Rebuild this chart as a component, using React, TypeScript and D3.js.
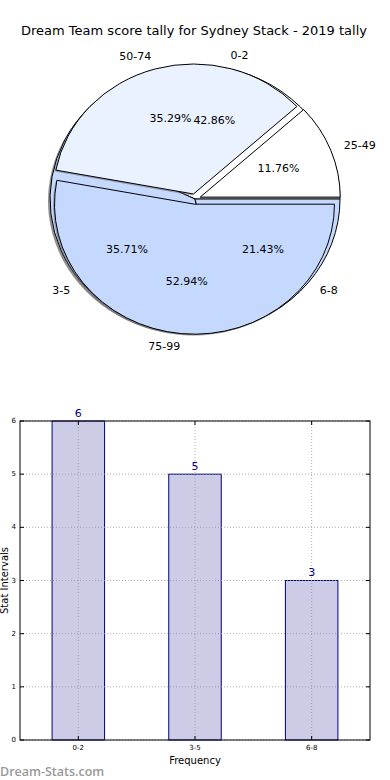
import React from "react";
import * as d3 from "d3";

// Données
const scoreCategories = ["25-49", "50-74", "75-99"];
const scoreValues = [2, 6, 9];
const scoreColors = ["#ffffff", "#eaf1ff", "#c5d9ff"];

const statCategories = ["0-2", "3-5", "6-8"];
const statValues = [6, 5, 3];
const statColors = ["#ffffff", "#c5d9ff", "#c5d9ff"];

const yTicks = [0, 1, 2, 3, 4, 5, 6];

const TITLE = "Dream Team score tally for Sydney Stack - 2019 tally";
const FONT = "'DejaVu Sans', Verdana, sans-serif";

type Slice = { path: string; color: string; label: string; pct: string; lx: number; ly: number; anchor: string; px: number; py: number };

// Camembert elliptique façon matplotlib (départ à 3h, sens anti-horaire)
function ellipsePie(values: number[], labels: string[], colors: string[], cx: number, cy: number, rx: number, ry: number, explode: number): Slice[] {
    const total = d3.sum(values);
    const arcs = d3.pie<number>().sort(null).startAngle(Math.PI / 2).endAngle(Math.PI / 2 - 2 * Math.PI)(values);
    const pt = (a: number, k: number, ox: number, oy: number) => [cx + ox + k * rx * Math.sin(a), cy + oy - k * ry * Math.cos(a)];
    return arcs.map((a, i) => {
        const mid = (a.startAngle + a.endAngle) / 2;
        const ox = explode * rx * Math.sin(mid);
        const oy = -explode * ry * Math.cos(mid);
        const [x0, y0] = pt(a.startAngle, 1, ox, oy);
        const [x1, y1] = pt(a.endAngle, 1, ox, oy);
        const large = Math.abs(a.endAngle - a.startAngle) > Math.PI ? 1 : 0;
        const path = `M${cx + ox},${cy + oy}L${x0},${y0}A${rx},${ry} 0 ${large} 0 ${x1},${y1}Z`;
        const [lx, ly] = pt(mid, 1.1, ox, oy);
        const [px, py] = pt(mid, 0.6, ox, oy);
        return {
            path,
            color: colors[i],
            label: labels[i],
            pct: `${((values[i] / total) * 100).toFixed(2)}%`,
            lx, ly, px, py,
            anchor: Math.sin(mid) >= 0 ? "start" : "end",
        };
    });
}

const App: React.FC = () => {
    const W = 390;
    const H = 780;

    // Camemberts superposés
    const back = ellipsePie(statValues, statCategories, statColors, 195, 199, 145, 134, 0);
    const front = ellipsePie(scoreValues, scoreCategories, scoreColors, 195, 199, 140, 130, 0.04);

    // Histogramme
    const M = { left: 20, right: 370, top: 421, bottom: 740 };
    const x = d3.scaleLinear().domain([-0.5, statCategories.length - 0.5]).range([M.left, M.right]);
    const y = d3.scaleLinear().domain([0, 6]).range([M.bottom, M.top]);
    const barW = (x(1) - x(0)) * 0.45;

    return (
        <svg width={W} height={H} style={{ position: "absolute", left: 0, top: 0, background: "#fff" }} fontFamily={FONT}>
            <text x={194} y={30} textAnchor="middle" dominantBaseline="central" fontSize={13} fill="#000">{TITLE}</text>

            {/* ombres */}
            {back.map((s, i) => (
                <path key={`bs${i}`} d={s.path} fill="#444" opacity={0.6} transform="translate(-2,2)" />
            ))}
            {back.map((s, i) => (
                <path key={`b${i}`} d={s.path} fill={s.color} stroke="#000" strokeWidth={1} strokeLinejoin="round" />
            ))}
            {front.map((s, i) => (
                <path key={`fs${i}`} d={s.path} fill="#666" opacity={0.5} transform="translate(-1.5,1.5)" />
            ))}
            {front.map((s, i) => (
                <path key={`f${i}`} d={s.path} fill={s.color} stroke="#000" strokeWidth={1} strokeLinejoin="round" />
            ))}
            {[...back, ...front].map((s, i) => (
                <g key={`l${i}`} fontSize={11} fill="#000">
                    <text x={s.lx} y={s.ly} textAnchor={s.anchor} dominantBaseline="central">{s.label}</text>
                    <text x={s.px} y={s.py} textAnchor="middle" dominantBaseline="central">{s.pct}</text>
                </g>
            ))}

            {/* barres */}
            {statValues.map((v, i) => (
                <rect key={`r${i}`} x={x(i) - barW / 2} y={y(v)} width={barW} height={y(0) - y(v)}
                    fill="#ccccE6" stroke="#000080" strokeWidth={1} />
            ))}

            {/* grille pointillée */}
            {yTicks.map((t) => (
                <line key={`gy${t}`} x1={M.left} x2={M.right} y1={y(t)} y2={y(t)} stroke="#999" strokeWidth={0.8} strokeDasharray="1,2" />
            ))}
            {statCategories.map((c, i) => (
                <line key={`gx${c}`} x1={x(i)} x2={x(i)} y1={M.top} y2={M.bottom} stroke="#999" strokeWidth={0.8} strokeDasharray="1,2" />
            ))}

            {/* ticks */}
            {yTicks.map((t) => (
                <g key={`ty${t}`}>
                    <line x1={M.left} x2={M.left + 4} y1={y(t)} y2={y(t)} stroke="#000" />
                    <line x1={M.right - 4} x2={M.right} y1={y(t)} y2={y(t)} stroke="#000" />
                    <text x={M.left - 4} y={y(t)} textAnchor="end" dominantBaseline="central" fontSize={7}>{t}</text>
                </g>
            ))}
            {statCategories.map((c, i) => (
                <g key={`tx${c}`}>
                    <line x1={x(i)} x2={x(i)} y1={M.bottom} y2={M.bottom - 4} stroke="#000" />
                    <line x1={x(i)} x2={x(i)} y1={M.top} y2={M.top + 4} stroke="#000" />
                    <text x={x(i)} y={M.bottom + 8} textAnchor="middle" dominantBaseline="central" fontSize={7}>{c}</text>
                </g>
            ))}

            <rect x={M.left} y={M.top} width={M.right - M.left} height={M.bottom - M.top} fill="none" stroke="#000" strokeWidth={1} />

            {/* valeurs */}
            {statValues.map((v, i) => (
                <text key={`v${i}`} x={x(i)} y={y(v) - 8} textAnchor="middle" dominantBaseline="central" fontSize={11} fill="#000080">{v}</text>
            ))}

            <text x={195} y={760} textAnchor="middle" dominantBaseline="central" fontSize={10}>Frequency</text>
            <text transform={`translate(4,${(M.top + M.bottom) / 2}) rotate(-90)`} textAnchor="middle" dominantBaseline="central" fontSize={10}>Stat Intervals</text>

            <text x={0} y={771} dominantBaseline="central" fontSize={12.5} fontWeight={600} fontFamily="'Open Sans', sans-serif" fill="#999">Dream-Stats.com</text>
        </svg>
    );
};

export default App;
